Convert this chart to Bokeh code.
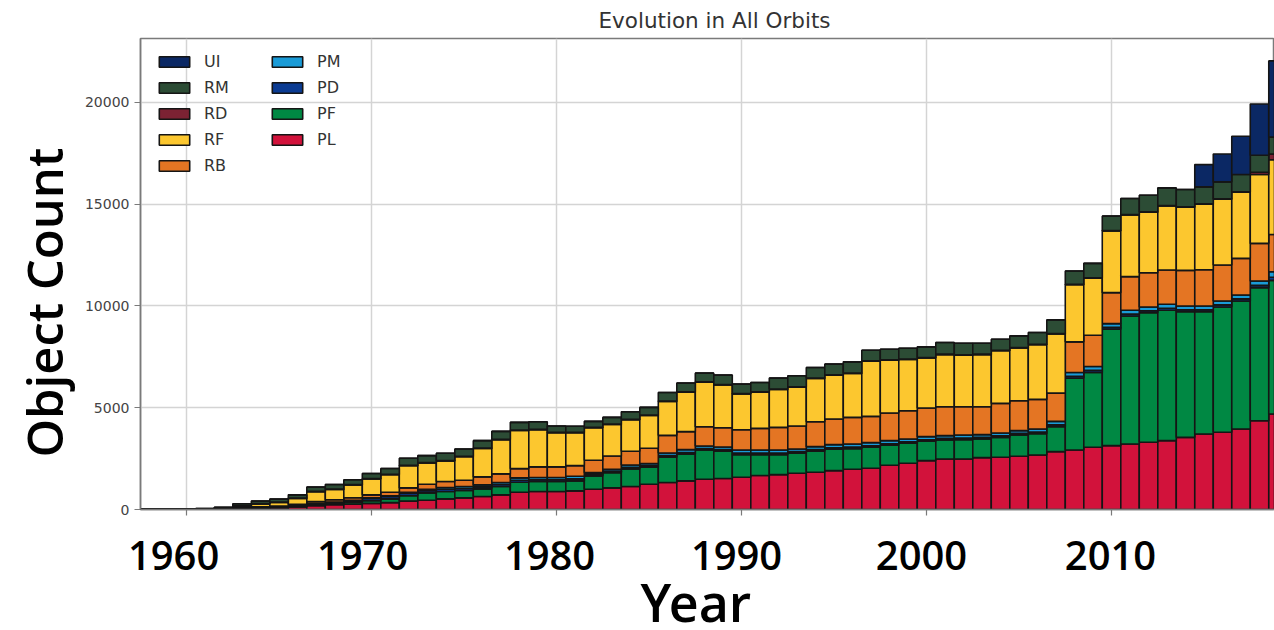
from bokeh.plotting import figure
from bokeh.models import ColumnDataSource, Range1d, Legend, LegendItem, FixedTicker, Title
from bokeh.embed import file_html
from bokeh.resources import INLINE

years = list(range(1957, 2020))

PL = [2, 3, 5, 10, 15, 25, 35, 55, 85, 130, 190, 230, 260, 300, 340, 410, 457, 523, 572, 637,
      719, 849, 882, 882, 915, 996, 1062, 1127, 1241, 1323, 1405, 1486, 1519, 1584, 1666, 1715, 1781, 1829,
      1911, 1976, 2025, 2172, 2270, 2401, 2483, 2483, 2548, 2564, 2614, 2679, 2842, 2924, 3054, 3136,
      3218, 3299, 3381, 3544, 3708, 3790, 3953, 4361, 4688]
PF = [0, 0, 0, 0, 0, 5, 10, 15, 20, 30, 50, 70, 90, 130, 180, 270, 360, 359, 359, 376,
      408, 491, 490, 490, 490, 654, 751, 866, 833, 1241, 1306, 1438, 1339, 1111, 1029, 980, 979, 1029,
      1045, 1013, 1029, 980, 980, 947, 931, 947, 915, 980, 1045, 1045, 1225, 3528, 3676, 5717,
      6288, 6370, 6403, 6174, 6010, 6157, 6288, 6533, 6566]
PD = [0, 0, 0, 0, 0, 5, 15, 20, 25, 30, 50, 60, 80, 110, 120, 120, 110, 110, 100, 100,
      100, 100, 90, 90, 100, 80, 70, 80, 70, 80, 80, 70, 80, 80, 80, 80, 80, 80,
      80, 80, 80, 80, 80, 80, 80, 80, 80, 80, 80, 80, 90, 90, 100, 90,
      90, 90, 100, 90, 90, 100, 100, 110, 150]
PM = [0, 0, 0, 0, 0, 0, 0, 5, 5, 10, 10, 10, 20, 30, 30, 40, 70, 86, 96, 96,
      96, 112, 106, 106, 129, 83, 93, 116, 110, 133, 149, 126, 133, 149, 149, 149, 133, 149,
      149, 149, 149, 149, 133, 149, 132, 149, 132, 133, 132, 149, 171, 188, 194, 187,
      188, 188, 194, 188, 188, 194, 194, 217, 275]
RB = [2, 3, 3, 5, 8, 15, 30, 35, 40, 60, 90, 110, 130, 150, 180, 220, 245, 294, 310, 392,
      425, 457, 523, 523, 522, 604, 654, 669, 751, 865, 882, 947, 947, 996, 1061, 1110, 1127, 1225,
      1258, 1306, 1290, 1356, 1388, 1405, 1421, 1388, 1372, 1453, 1470, 1453, 1389, 1502, 1535, 1519,
      1650, 1683, 1682, 1748, 1781, 1764, 1797, 1846, 1825]
RF = [0, 2, 3, 10, 15, 20, 60, 140, 170, 280, 480, 510, 620, 780, 860, 1090, 1042, 1009, 1156, 1401,
      1678, 1875, 1825, 1678, 1613, 1597, 1548, 1549, 1614, 1663, 1940, 2185, 2103, 1760, 1777, 1859, 1907, 2120,
      2152, 2153, 2708, 2593, 2512, 2462, 2561, 2528, 2561, 2594, 2593, 2692, 2903, 2806, 2805, 3035,
      3034, 2968, 3149, 3099, 3213, 3230, 3246, 3381, 3675]
RD = [0, 0, 0, 0, 0, 10, 30, 20, 20, 20, 20, 20, 20, 20, 20, 20, 20, 20, 20, 20,
      20, 20, 20, 20, 20, 20, 20, 20, 20, 20, 20, 20, 20, 20, 20, 20, 20, 20,
      20, 20, 20, 20, 20, 20, 20, 20, 20, 20, 20, 20, 20, 20, 20, 20,
      20, 20, 20, 20, 20, 20, 20, 114, 277]
RM = [0, 2, 3, 5, 10, 30, 100, 130, 145, 160, 210, 220, 240, 250, 280, 350, 343, 359, 360, 359,
      392, 375, 376, 311, 300, 294, 326, 375, 375, 424, 425, 425, 458, 458, 457, 539, 539, 522,
      523, 555, 523, 523, 539, 523, 571, 572, 539, 539, 572, 571, 670, 653, 703, 702,
      784, 817, 865, 850, 833, 833, 850, 833, 833]
UI = [0] * 58 + [1095, 1372, 1878, 2515, 3741]

series = ["PL", "PF", "PD", "PM", "RB", "RF", "RD", "RM", "UI"]
values = [PL, PF, PD, PM, RB, RF, RD, RM, UI]
colors = ["#d2123b", "#008843", "#0b3b92", "#1a9bd7", "#e47523", "#fcc72f", "#7c2233", "#2c4c35", "#0b2864"]

x_ticks = [1960, 1970, 1980, 1990, 2000, 2010]
x_tick_labels = ["1960", "1970", "1980", "1990", "2000", "2010"]
y_ticks = [0, 5000, 10000, 15000, 20000]

# the large year labels sit slightly left of their ticks (pixel shifts)
label_shift_px = [-13, -9, -7, -5, -5, -1]
PX_PER_YEAR = 18.5
label_pos = [round(t + s / PX_PER_YEAR, 3) for t, s in zip(x_ticks, label_shift_px)]

data = {"year": years}
for name, vals in zip(series, values):
    data[name] = vals
src = ColumnDataSource(data)

BIG_FONT = "Open Sans SemiBold, Open Sans"

p = figure(width=1274, height=630, output_backend="svg", toolbar_location=None,
           x_range=Range1d(1957.51, 2018.81), y_range=Range1d(0, 23130),
           min_border_left=140, min_border_right=0, min_border_top=37, min_border_bottom=121)

rs = p.vbar_stack(series, x="year", width=1.0, color=colors, source=src,
                  line_color="#151515", line_width=1.6)
rmap = dict(zip(series, rs))

p.title.text = "Evolution in All Orbits"
p.title.align = "left"
p.title.offset = 458
p.title.standoff = 11
p.title.text_font = "DejaVu Sans"
p.title.text_font_size = "21.5px"
p.title.text_font_style = "normal"
p.title.text_color = "#333333"

p.outline_line_color = "#7a7a7a"
p.outline_line_width = 1.5
p.background_fill_color = "white"

p.xgrid.ticker = FixedTicker(ticks=x_ticks)
p.ygrid.ticker = FixedTicker(ticks=y_ticks)
p.xgrid.grid_line_color = "#d4d4d4"
p.ygrid.grid_line_color = "#d4d4d4"
p.xgrid.grid_line_width = 1.5
p.ygrid.grid_line_width = 1.5

xa = p.xaxis[0]
ya = p.yaxis[0]
xa.ticker = FixedTicker(ticks=label_pos, minor_ticks=x_ticks)
xa.major_label_overrides = {pos: lab for pos, lab in zip(label_pos, x_tick_labels)}
xa.major_tick_line_color = None
xa.minor_tick_line_color = "#7a7a7a"
xa.minor_tick_out = 6
xa.minor_tick_in = 0
xa.minor_tick_line_width = 1.2
ya.ticker = FixedTicker(ticks=y_ticks)
ya.major_tick_line_color = "#7a7a7a"
ya.major_tick_out = 6
ya.major_tick_in = 0
ya.minor_tick_line_color = None
for ax in (xa, ya):
    ax.axis_line_color = "#7a7a7a"
    ax.axis_line_width = 1.5

xa.major_label_text_font = BIG_FONT
xa.major_label_text_font_size = "40px"
xa.major_label_text_font_style = "normal"
xa.major_label_text_color = "black"
xa.major_label_standoff = 25

ya.major_label_text_font = "DejaVu Sans"
ya.major_label_text_font_size = "14px"
ya.major_label_text_color = "#444444"
ya.major_label_standoff = 5

# large axis titles
xlab = Title(text="Year", align="left", offset=500, standoff=-17,
             text_font=BIG_FONT, text_font_size="52px", text_font_style="normal",
             text_color="black")
ylab = Title(text="Object Count", align="left", offset=52, standoff=10,
             text_font=BIG_FONT, text_font_size="49px", text_font_style="normal",
             text_color="black")
p.add_layout(xlab, "below")
p.add_layout(ylab, "left")

col1 = ["UI", "RM", "RD", "RF", "RB"]
col2 = ["PM", "PD", "PF", "PL"]

def make_legend(names, loc):
    lg = Legend(items=[LegendItem(label=n, renderers=[rmap[n]]) for n in names],
                location=loc, orientation="vertical")
    lg.background_fill_alpha = 0
    lg.border_line_alpha = 0
    lg.padding = 0
    lg.margin = 0
    lg.spacing = 6
    lg.glyph_width = 38
    lg.glyph_height = 13
    lg.label_height = 20
    lg.label_standoff = 11
    lg.label_text_font = "DejaVu Sans"
    lg.label_text_font_size = "16px"
    lg.label_text_color = "#333333"
    return lg

p.add_layout(make_legend(col1, (15, 334)))
p.add_layout(make_legend(col2, (128, 360)))

open("out.html", "w").write(file_html(p, INLINE))
